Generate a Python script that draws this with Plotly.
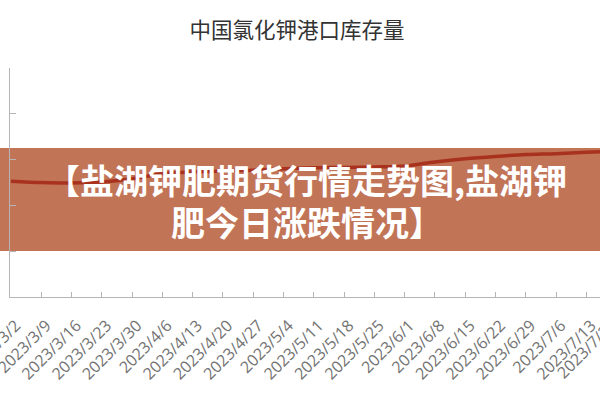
import plotly.graph_objects as go

dates = ["2023/3/2", "2023/3/9", "2023/3/16", "2023/3/23", "2023/3/30", "2023/4/6",
         "2023/4/13", "2023/4/20", "2023/4/27", "2023/5/4", "2023/5/11", "2023/5/18",
         "2023/5/25", "2023/6/1", "2023/6/8", "2023/6/15", "2023/6/22", "2023/6/29",
         "2023/7/6", "2023/7/13", "2023/7/20"]
inventory = [253, 250, 249, 251, 258, 269, 273, 275, 277, 280, 282, 283,
             284, 286, 295, 302, 307, 311, 313, 316, 318]
title_text = "中国氯化钾港口库存量"
banner_lines = ["【盐湖钾肥期货行情走势图,盐湖钾", "肥今日涨跌情况】"]

idx = list(range(len(dates)))
x_range = [-0.03, 19.45]

fig = go.Figure()
fig.add_trace(go.Scatter(
    x=idx, y=inventory, mode="lines",
    line=dict(color="#A8321E", width=3.5, shape="spline", smoothing=0.8),
    hoverinfo="skip", showlegend=False,
))

tickfont = dict(family="Open Sans, Noto Sans", size=16, color="#727272")

# tick labels that lie past the visible end of the axis (cut by the frame)
extra = []
for i, d in zip(idx, dates):
    if i > x_range[1]:
        extra.append(dict(
            text=d, xref="paper", yref="paper",
            x=(i - x_range[0]) / (x_range[1] - x_range[0]), y=0,
            xanchor="right", yanchor="top", textangle=-45,
            showarrow=False, font=tickfont, xshift=8, yshift=-14,
        ))

banner_font = dict(family="Noto Sans CJK SC", size=34, color="white", weight="bold")
banner = [
    dict(text=banner_lines[0], xref="paper", yref="paper",
         x=(307 - 10) / 590, y=(297 - 179) / 229,
         xanchor="center", yanchor="middle", showarrow=False, font=banner_font),
    dict(text=banner_lines[1], xref="paper", yref="paper",
         x=(307 - 10) / 590, y=(297 - 221) / 229,
         xanchor="center", yanchor="middle", showarrow=False, font=banner_font),
]

fig.update_layout(
    width=600, height=400,
    margin=dict(l=10, r=0, t=68, b=103, autoexpand=False),
    paper_bgcolor="white", plot_bgcolor="white",
    title=dict(text=title_text, x=0.495, xref="container", xanchor="center",
               y=1 - 30 / 400, yref="container", yanchor="middle",
               font=dict(family="Noto Sans CJK SC", size=21.5, color="#333333")),
    xaxis=dict(
        range=x_range, tickmode="array", tickvals=idx, ticktext=dates,
        tickangle=-45, tickfont=tickfont, ticklabeloverflow="allow",
        ticklabelstandoff=12, ticklabelshift=5,
        showline=True, linecolor="#b5b5b5", linewidth=1,
        ticks="inside", ticklen=5, tickcolor="#b5b5b5",
        showgrid=False, zeroline=False, fixedrange=True, automargin=False,
    ),
    yaxis=dict(
        range=[0, 500], dtick=100, showticklabels=False,
        showline=True, linecolor="#b5b5b5", linewidth=1,
        ticks="inside", ticklen=6, tickcolor="#b5b5b5",
        showgrid=False, zeroline=False, fixedrange=True, automargin=False,
    ),
    shapes=[dict(
        type="rect", xref="paper", yref="paper",
        x0=-0.05, x1=1.05,
        y0=(297 - 251) / 229, y1=(297 - 148) / 229,
        fillcolor="#C27457", line=dict(width=0), layer="below",
    )],
    annotations=banner + extra,
)

fig.write_html("out.html", config={"displayModeBar": False},
               post_script="document.body.style.margin='0';document.body.style.overflow='hidden';")
